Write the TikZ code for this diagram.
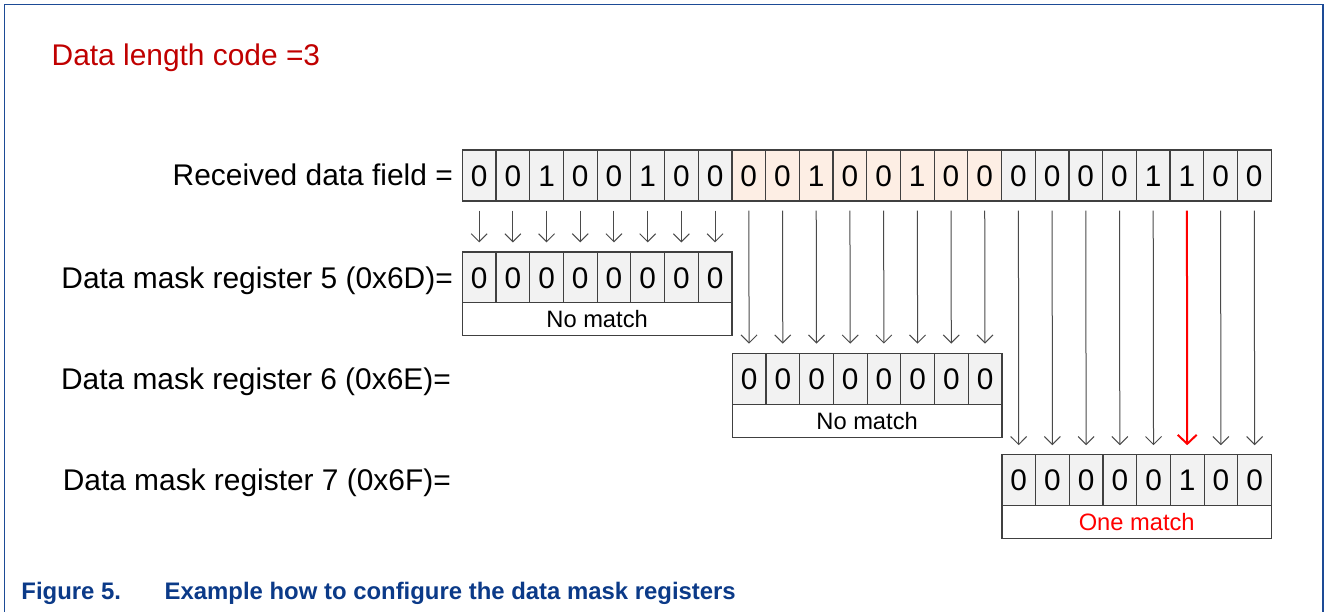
\documentclass[tikz,border=0pt]{standalone}
\usepackage{fontspec}
\setmainfont{Liberation Sans}
\usetikzlibrary{arrows.meta}
\definecolor{framec}{HTML}{1D4B96}
\definecolor{titlec}{HTML}{C00000}
\definecolor{capc}{HTML}{0B3A88}
\definecolor{cellg}{HTML}{F2F2F2}
\definecolor{cellp}{HTML}{FDEEE4}
\definecolor{edgec}{HTML}{404040}
\definecolor{arrc}{HTML}{4A4A4A}
\definecolor{redc}{HTML}{FF0000}
\tikzset{
  bit/.style={draw=edgec, line width=1.2pt, fill=cellg, minimum width=33.7pt, minimum height=51pt,
    inner sep=0pt, text height=21.2pt, text depth=0pt, font=\fontsize{29.8}{30}\selectfont},
  peach/.style={bit, fill=cellp},
  resbox/.style={draw=edgec, line width=1.2pt, fill=white, minimum width=269.6pt, minimum height=33pt,
    inner sep=0pt, text height=17pt, text depth=0pt, font=\fontsize{23.7}{24}\selectfont},
  lbl/.style={anchor=base east, inner sep=0pt, font=\fontsize{29.9}{30}\selectfont},
  arr/.style={draw=arrc, line width=1pt, -{Straight Barb[length=8pt,width=16pt,line width=1pt]},
    shorten <=9pt, shorten >=9pt},
  redarr/.style={draw=redc, line width=2pt, -{Straight Barb[length=9pt,width=19pt,line width=2pt]},
    shorten <=9pt, shorten >=9pt}
}
\begin{document}
\begin{tikzpicture}[x=1pt,y=-1pt]
\useasboundingbox (0,0) rectangle (1324,612);
\draw[framec, line width=1.5pt] (4.7,612) -- (4.7,4.7) -- (1322.8,4.7) -- (1322.8,612);

\node[anchor=base west, inner sep=0pt, text=titlec, font=\fontsize{29.9}{30}\selectfont] (title) at (51.5,65.5) {Data length code =3};

% received data field
\foreach \v [count=\k from 0] in {0,0,1,0,0,1,0,0}
  \node[bit] (r\k) at ({462.3+33.7*\k+16.85},175.5) {\v};
\foreach \v [count=\k from 8] in {0,0,1,0,0,1,0,0}
  \node[peach] (r\k) at ({462.3+33.7*\k+16.85},175.5) {\v};
\foreach \v [count=\k from 16] in {0,0,0,0,1,1,0,0}
  \node[bit] (r\k) at ({462.3+33.7*\k+16.85},175.5) {\v};
\node[lbl] (lr) at (453,186) {Received data field =};

% register 5
\foreach \v [count=\k from 0] in {0,0,0,0,0,0,0,0}
  \node[bit] (a\k) at ({462.3+33.7*\k+16.85},277.5) {\v};
\node[resbox] (n5) at (597.1,319.3) {No match};
\node[lbl] (l5) at (453,288) {Data mask register 5 (0x6D)=};

% register 6
\foreach \v [count=\k from 0] in {0,0,0,0,0,0,0,0}
  \node[bit] (b\k) at ({732.3+33.7*\k+16.85},378.7) {\v};
\node[resbox] (n6) at (867.1,420.6) {No match};
\node[lbl] (l6) at (451,389.2) {Data mask register 6 (0x6E)=};

% register 7
\foreach \v [count=\k from 0] in {0,0,0,0,0,1,0,0}
  \node[bit] (c\k) at ({1001.9+33.7*\k+16.85},480.3) {\v};
\node[resbox, text=redc] (n7) at (1136.7,522.3) {One match};
\node[lbl] (l7) at (451,490.8) {Data mask register 7 (0x6F)=};

% arrows
\foreach \k in {0,...,7} \draw[arr] (r\k) -- (a\k);
\foreach \k [evaluate=\k as \j using int(\k+8)] in {0,...,7} \draw[arr] (r\j) -- (b\k);
\foreach \k [evaluate=\k as \j using int(\k+16)] in {0,1,2,3,4,6,7} \draw[arr] (r\j) -- (c\k);
\draw[redarr] (r21) -- (c5);

% caption
\node[anchor=base west, inner sep=0pt, text=capc, font=\fontsize{23.9}{24}\selectfont\bfseries] (fig) at (21.2,599.3) {Figure 5.};
\node[anchor=base west, inner sep=0pt, text=capc, font=\fontsize{23.9}{24}\selectfont\bfseries] (cap) at (164.5,599.3) {Example how to configure the data mask registers};
\end{tikzpicture}
\end{document}
